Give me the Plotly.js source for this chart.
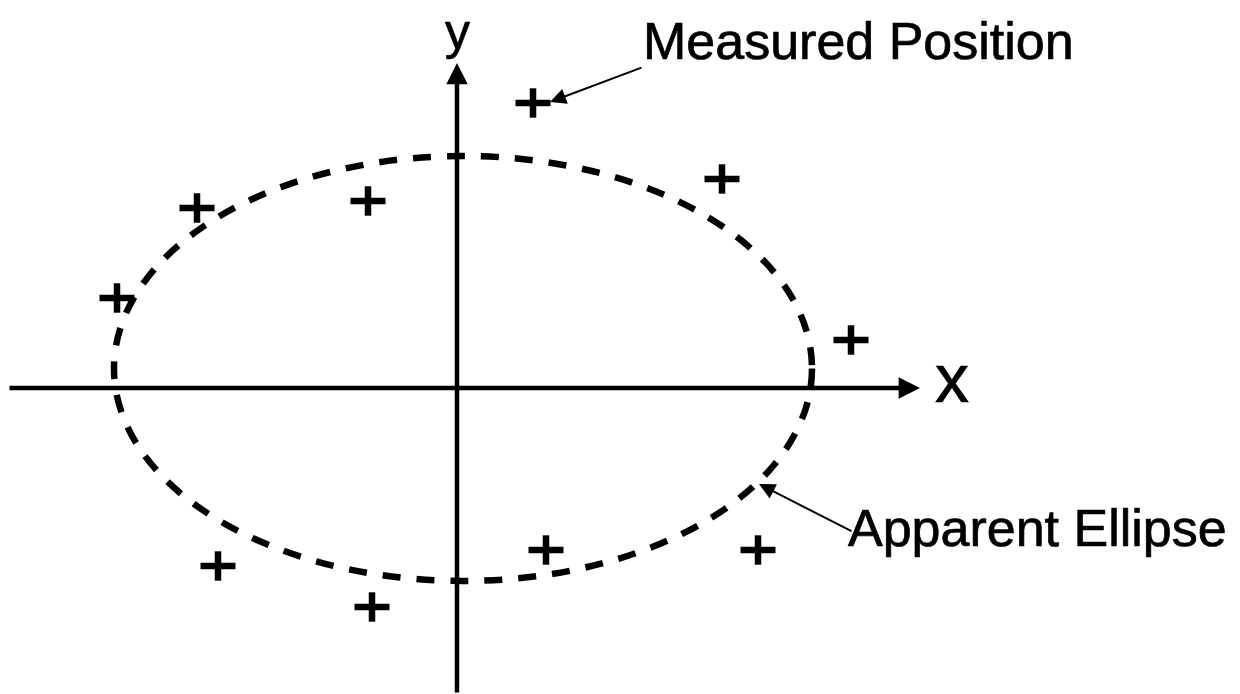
<!DOCTYPE html>
<html>
<head>
<meta charset="utf-8">
<script src="https://cdn.plot.ly/plotly-3.0.1.min.js"></script>
<style>
html,body{margin:0;padding:0;background:#fff;}
#chart{width:1240px;height:694px;}
#chart .annotation-text{stroke:#000;stroke-width:0.7px;}
</style>
</head>
<body>
<div id="chart"></div>
<script>
// Measured positions (diagram units, origin at axis crossing, y up)
var measuredX = [76, 265, -260, -89, -340, 394, 301, 89, -239, -85];
var measuredY = [285, 209, 180, 187, 90, 48, -162, -162, -178, -219];

// Apparent ellipse bounds
var ellipseX = [-343, 355];
var ellipseY = [-193, 232];

// Axis extents
var xAxisExtent = [-449, 463];
var yAxisExtent = [-306, 325];

var labelFont = 'Liberation Sans, Arial, Helvetica, sans-serif';

var traces = [
  {
    x: measuredX, y: measuredY, type: 'scatter', mode: 'markers',
    marker: {symbol: 'line-ew', size: 25, line: {width: 6.5, color: '#000'}, color: '#000'},
    hoverinfo: 'skip', showlegend: false
  },
  {
    x: measuredX, y: measuredY, type: 'scatter', mode: 'markers',
    marker: {symbol: 'line-ns', size: 21, line: {width: 6.5, color: '#000'}, color: '#000'},
    hoverinfo: 'skip', showlegend: false
  }
];

var layout = {
  width: 1240, height: 694,
  margin: {l: 0, r: 0, t: 0, b: 0, pad: 0},
  paper_bgcolor: '#fff', plot_bgcolor: '#fff',
  showlegend: false,
  xaxis: {range: [-457, 783], visible: false, showgrid: false, zeroline: false, fixedrange: true},
  yaxis: {range: [-306, 388], visible: false, showgrid: false, zeroline: false, fixedrange: true},
  shapes: [
    {type: 'circle', xref: 'x', yref: 'y', x0: ellipseX[0], x1: ellipseX[1], y0: ellipseY[0], y1: ellipseY[1],
     line: {color: '#000', width: 6.5, dash: '18px,16px'}, fillcolor: 'rgba(0,0,0,0)'}
  ],
  annotations: [
    // x axis arrow
    {x: xAxisExtent[1], y: 0, ax: xAxisExtent[0], ay: 0, xref: 'x', yref: 'y', axref: 'x', ayref: 'y',
     text: '', showarrow: true, arrowhead: 2, arrowsize: 0.95, arrowwidth: 4.5, arrowcolor: '#000', standoff: 0, startstandoff: 0},
    // y axis arrow
    {x: 0, y: yAxisExtent[1], ax: 0, ay: yAxisExtent[0], xref: 'x', yref: 'y', axref: 'x', ayref: 'y',
     text: '', showarrow: true, arrowhead: 2, arrowsize: 0.95, arrowwidth: 4.5, arrowcolor: '#000', standoff: 0, startstandoff: 0},
    // axis labels
    {x: 0, y: 356, xref: 'x', yref: 'y', text: 'y', showarrow: false,
     font: {family: labelFont, size: 50, color: '#000'}},
    {x: 495, y: 10, xref: 'x', yref: 'y', text: 'x', showarrow: false,
     font: {family: labelFont, size: 68, color: '#000'}},
    // Measured Position label + arrow
    {x: 93, y: 286, ax: 186, ay: 321, xref: 'x', yref: 'y', axref: 'x', ayref: 'y',
     text: '', showarrow: true, arrowhead: 2, arrowsize: 1.6, arrowwidth: 2, arrowcolor: '#000', standoff: 0, startstandoff: 0},
    {x: 184, y: 347, xref: 'x', yref: 'y', xanchor: 'left', text: 'Measured Position', showarrow: false,
     font: {family: labelFont, size: 52, color: '#000'}},
    // Apparent Ellipse label + arrow
    {x: 302, y: -96, ax: 396, ay: -144, xref: 'x', yref: 'y', axref: 'x', ayref: 'y',
     text: '', showarrow: true, arrowhead: 2, arrowsize: 1.6, arrowwidth: 2, arrowcolor: '#000', standoff: 0, startstandoff: 0},
    {x: 389, y: -140, xref: 'x', yref: 'y', xanchor: 'left', text: 'Apparent Ellipse', showarrow: false,
     font: {family: labelFont, size: 52, color: '#000'}}
  ]
};

Plotly.newPlot('chart', traces, layout, {displayModeBar: false, staticPlot: true});
</script>
</body>
</html>
